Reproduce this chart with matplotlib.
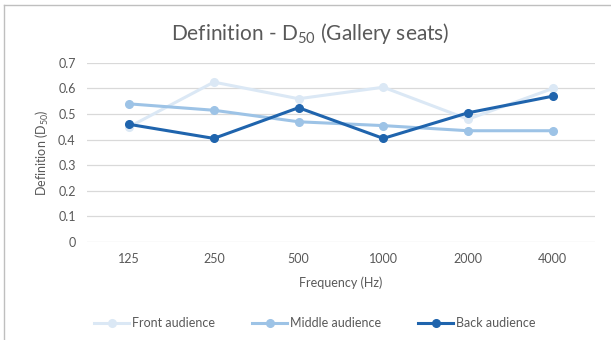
import matplotlib
matplotlib.use("Agg")
import matplotlib.pyplot as plt
from matplotlib.lines import Line2D

# values
frequencies = ["125", "250", "500", "1000", "2000", "4000"]
front = [0.45, 0.625, 0.56, 0.605, 0.48, 0.60]
middle = [0.54, 0.515, 0.47, 0.455, 0.435, 0.435]
back = [0.46, 0.405, 0.525, 0.405, 0.505, 0.57]

plt.rcParams["font.family"] = ["Lato", "DejaVu Sans"]
plt.rcParams["mathtext.default"] = "regular"

grey = "#595959"
colors = ["#dbe8f5", "#9dc3e6", "#1f64ad"]

fig = plt.figure(figsize=(6.11, 3.4), dpi=100)
ax = fig.add_axes([0.142, 0.288, 0.832, 0.527])

x = range(len(frequencies))
ax.plot(x, front, color=colors[0], lw=2.2, marker="o", ms=5.5, label="Front audience", zorder=3)
ax.plot(x, middle, color=colors[1], lw=2.2, marker="o", ms=5.5, label="Middle audience", zorder=4)
ax.plot(x, back, color=colors[2], lw=2.2, marker="o", ms=5.5, label="Back audience", zorder=5)

ax.set_xlim(-0.5, len(frequencies) - 0.5)
ax.set_ylim(0, 0.7)
ax.set_yticks([i / 10 for i in range(8)])
ax.set_yticklabels(["0"] + [f"{i / 10:.1f}" for i in range(1, 8)])
ax.set_xticks(list(x))
ax.set_xticklabels(frequencies)
ax.tick_params(length=0, labelsize=9, colors=grey, pad=8)
ax.grid(axis="y", color="#d9d9d9", lw=0.9, zorder=0)
for s in ax.spines.values():
    s.set_visible(False)

ax.set_xlabel("Frequency (Hz)", fontsize=9, color=grey, labelpad=8)
ax.set_ylabel("Definition (D$_{50}$)", fontsize=9, color=grey, labelpad=5)
fig.text(0.508, 0.9, "Definition - D$_{50}$ (Gallery seats)", ha="center", va="center",
         fontsize=15, color=grey)

handles = [Line2D([], [], color=c, lw=2.2, marker="o", ms=5.5) for c in colors]
fig.legend(handles, ["Front audience", "Middle audience", "Back audience"],
           loc="center", bbox_to_anchor=(0.515, 0.05), ncol=3, frameon=False,
           fontsize=9, labelcolor=grey, handlelength=2.8, columnspacing=3, handletextpad=0.2)

# chart frame (left and top edges visible in the crop)
fig.add_artist(Line2D([0.007, 0.007], [0.0, 0.985], color="#bfbfbf", lw=1, transform=fig.transFigure))
fig.add_artist(Line2D([0.007, 1.0], [0.985, 0.985], color="#bfbfbf", lw=1, transform=fig.transFigure))

fig.savefig("out.png", dpi=100)
